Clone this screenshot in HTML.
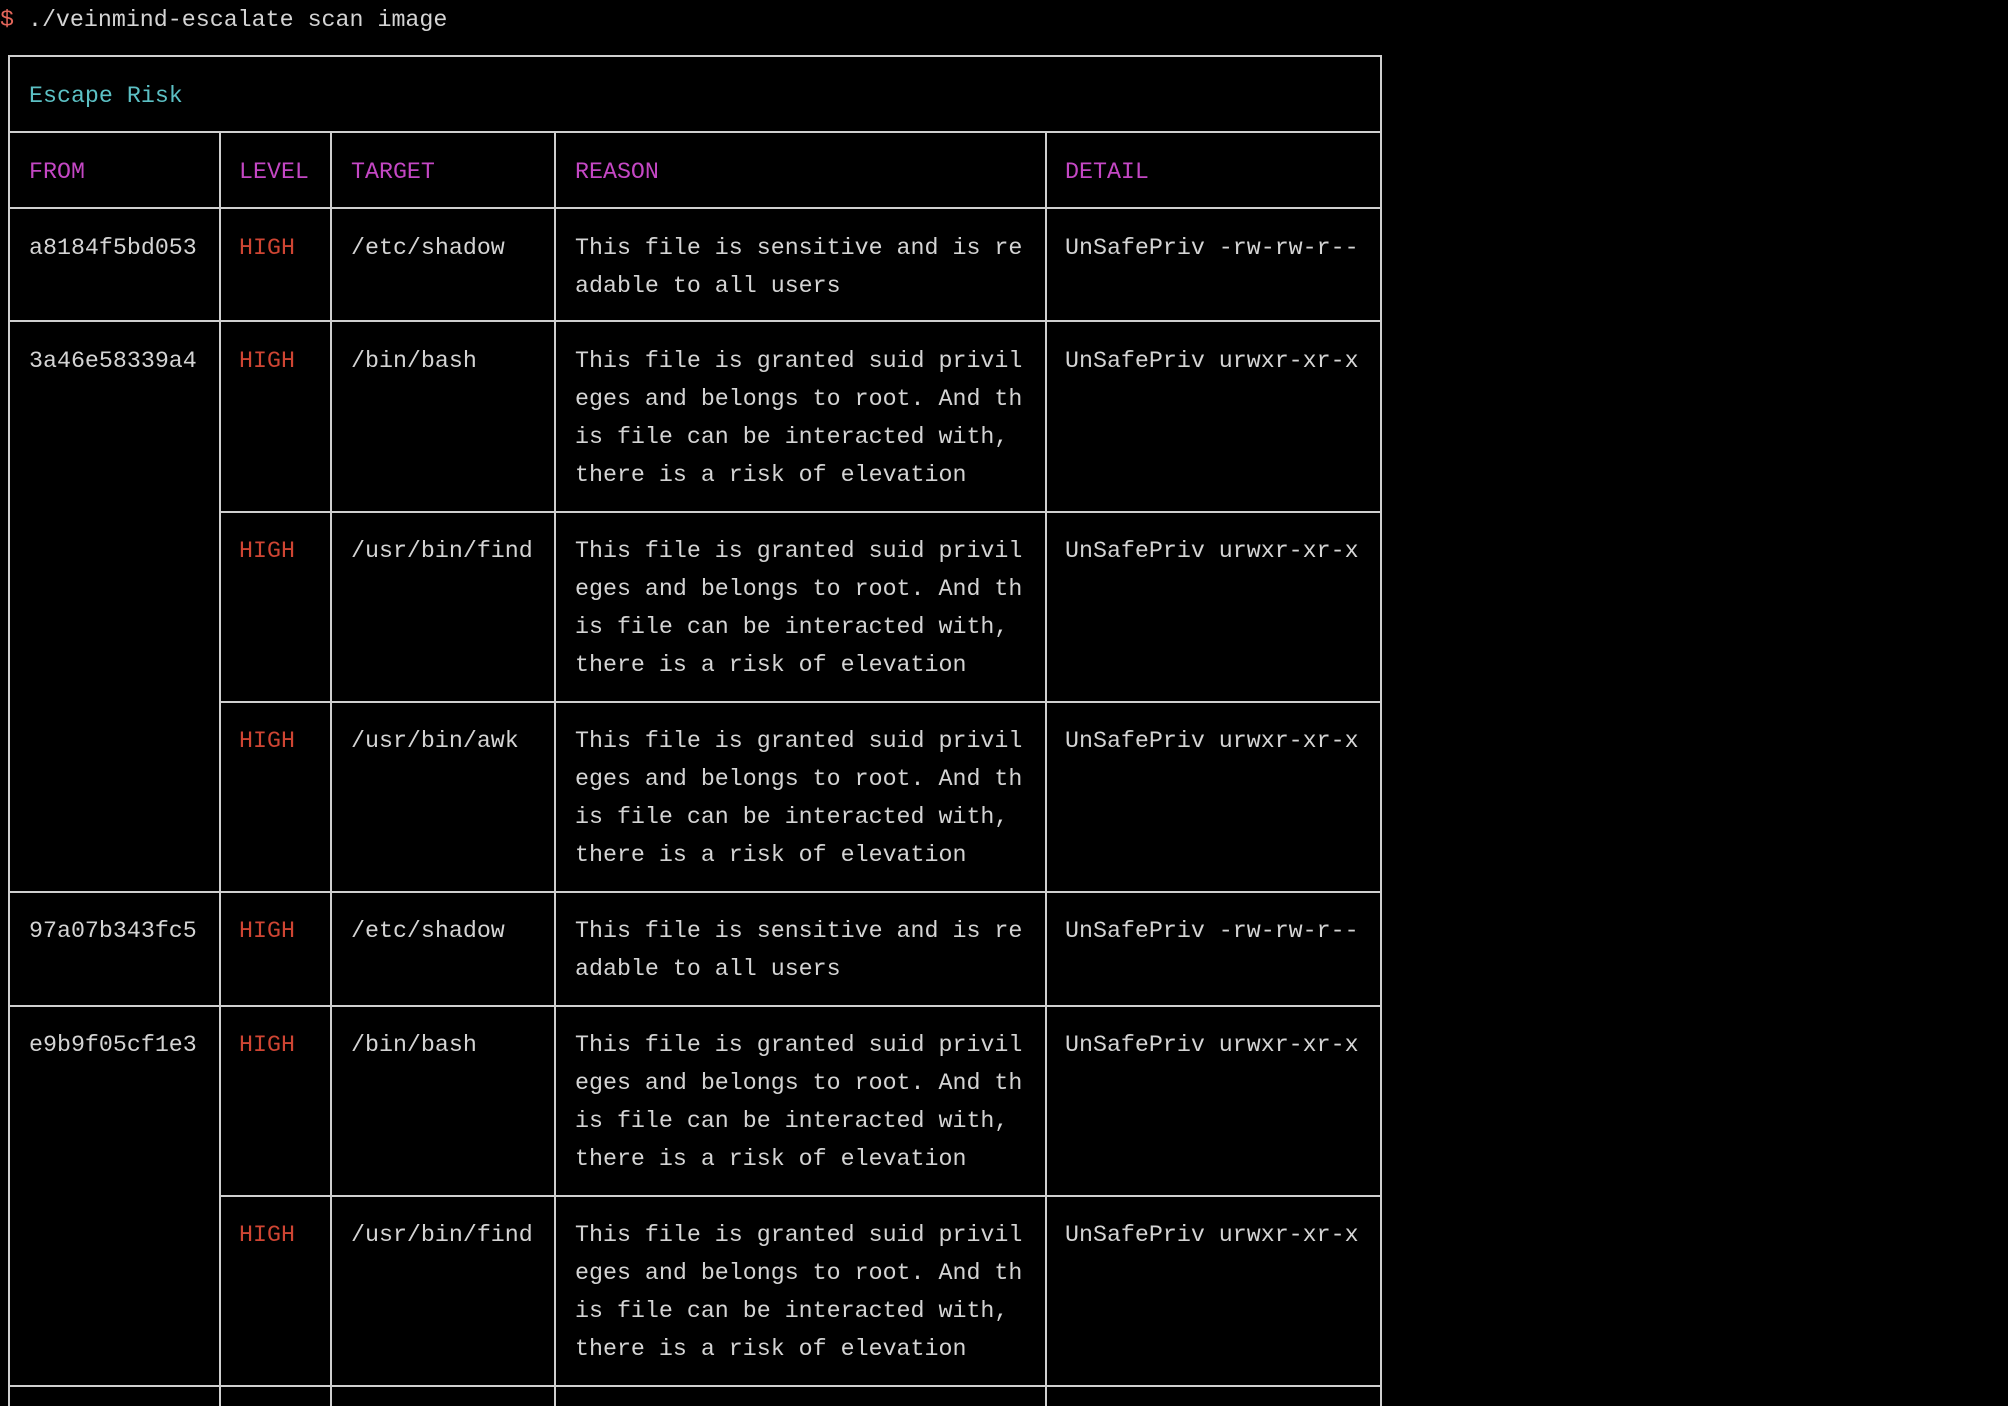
<!DOCTYPE html>
<html><head><meta charset="utf-8"><style>
html,body{margin:0;padding:0;background:#000;width:2008px;height:1406px;overflow:hidden;position:relative}
.t{position:absolute;font-family:"Liberation Mono",monospace;font-size:23.3px;line-height:38px;color:#d4d4d4;white-space:pre;margin-top:2px}
.h{position:absolute;height:2px;background:#cfcfcf}
.v{position:absolute;width:2px;background:#cfcfcf}
.c{color:#5cc0c4}.m{color:#c447c4}.r{color:#cf4533}.d{color:#e4665a}
</style></head><body>
<div class="t" style="left:0;top:-1px"><span class="d">$</span> ./veinmind-escalate scan image</div>

<div class="h" style="left:8px;top:55px;width:1374px"></div>
<div class="h" style="left:8px;top:131px;width:1374px"></div>
<div class="h" style="left:8px;top:207px;width:1374px"></div>
<div class="h" style="left:8px;top:320px;width:1374px"></div>
<div class="h" style="left:219px;top:511px;width:1163px"></div>
<div class="h" style="left:219px;top:701px;width:1163px"></div>
<div class="h" style="left:8px;top:891px;width:1374px"></div>
<div class="h" style="left:8px;top:1005px;width:1374px"></div>
<div class="h" style="left:219px;top:1195px;width:1163px"></div>
<div class="h" style="left:8px;top:1385px;width:1374px"></div>
<div class="v" style="left:8px;top:55px;height:1351px"></div>
<div class="v" style="left:1380px;top:55px;height:1351px"></div>
<div class="v" style="left:219px;top:131px;height:1275px"></div>
<div class="v" style="left:330px;top:131px;height:1275px"></div>
<div class="v" style="left:554px;top:131px;height:1275px"></div>
<div class="v" style="left:1045px;top:131px;height:1275px"></div>

<div class="t c" style="left:29px;top:75px">Escape Risk</div>
<div class="t m" style="left:29px;top:151px">FROM</div>
<div class="t m" style="left:239px;top:151px">LEVEL</div>
<div class="t m" style="left:351px;top:151px">TARGET</div>
<div class="t m" style="left:575px;top:151px">REASON</div>
<div class="t m" style="left:1065px;top:151px">DETAIL</div>

<div class="t" style="left:29px;top:227px">a8184f5bd053</div>
<div class="t r" style="left:239px;top:227px">HIGH</div>
<div class="t" style="left:351px;top:227px">/etc/shadow</div>
<div class="t" style="left:575px;top:227px">This file is sensitive and is re
adable to all users</div>
<div class="t" style="left:1065px;top:227px">UnSafePriv -rw-rw-r--</div>

<div class="t" style="left:29px;top:340px">3a46e58339a4</div>
<div class="t r" style="left:239px;top:340px">HIGH</div>
<div class="t" style="left:351px;top:340px">/bin/bash</div>
<div class="t" style="left:575px;top:340px">This file is granted suid privil
eges and belongs to root. And th
is file can be interacted with,
there is a risk of elevation</div>
<div class="t" style="left:1065px;top:340px">UnSafePriv urwxr-xr-x</div>

<div class="t r" style="left:239px;top:530px">HIGH</div>
<div class="t" style="left:351px;top:530px">/usr/bin/find</div>
<div class="t" style="left:575px;top:530px">This file is granted suid privil
eges and belongs to root. And th
is file can be interacted with,
there is a risk of elevation</div>
<div class="t" style="left:1065px;top:530px">UnSafePriv urwxr-xr-x</div>

<div class="t r" style="left:239px;top:720px">HIGH</div>
<div class="t" style="left:351px;top:720px">/usr/bin/awk</div>
<div class="t" style="left:575px;top:720px">This file is granted suid privil
eges and belongs to root. And th
is file can be interacted with,
there is a risk of elevation</div>
<div class="t" style="left:1065px;top:720px">UnSafePriv urwxr-xr-x</div>

<div class="t" style="left:29px;top:910px">97a07b343fc5</div>
<div class="t r" style="left:239px;top:910px">HIGH</div>
<div class="t" style="left:351px;top:910px">/etc/shadow</div>
<div class="t" style="left:575px;top:910px">This file is sensitive and is re
adable to all users</div>
<div class="t" style="left:1065px;top:910px">UnSafePriv -rw-rw-r--</div>

<div class="t" style="left:29px;top:1024px">e9b9f05cf1e3</div>
<div class="t r" style="left:239px;top:1024px">HIGH</div>
<div class="t" style="left:351px;top:1024px">/bin/bash</div>
<div class="t" style="left:575px;top:1024px">This file is granted suid privil
eges and belongs to root. And th
is file can be interacted with,
there is a risk of elevation</div>
<div class="t" style="left:1065px;top:1024px">UnSafePriv urwxr-xr-x</div>

<div class="t r" style="left:239px;top:1214px">HIGH</div>
<div class="t" style="left:351px;top:1214px">/usr/bin/find</div>
<div class="t" style="left:575px;top:1214px">This file is granted suid privil
eges and belongs to root. And th
is file can be interacted with,
there is a risk of elevation</div>
<div class="t" style="left:1065px;top:1214px">UnSafePriv urwxr-xr-x</div>
</body></html>
